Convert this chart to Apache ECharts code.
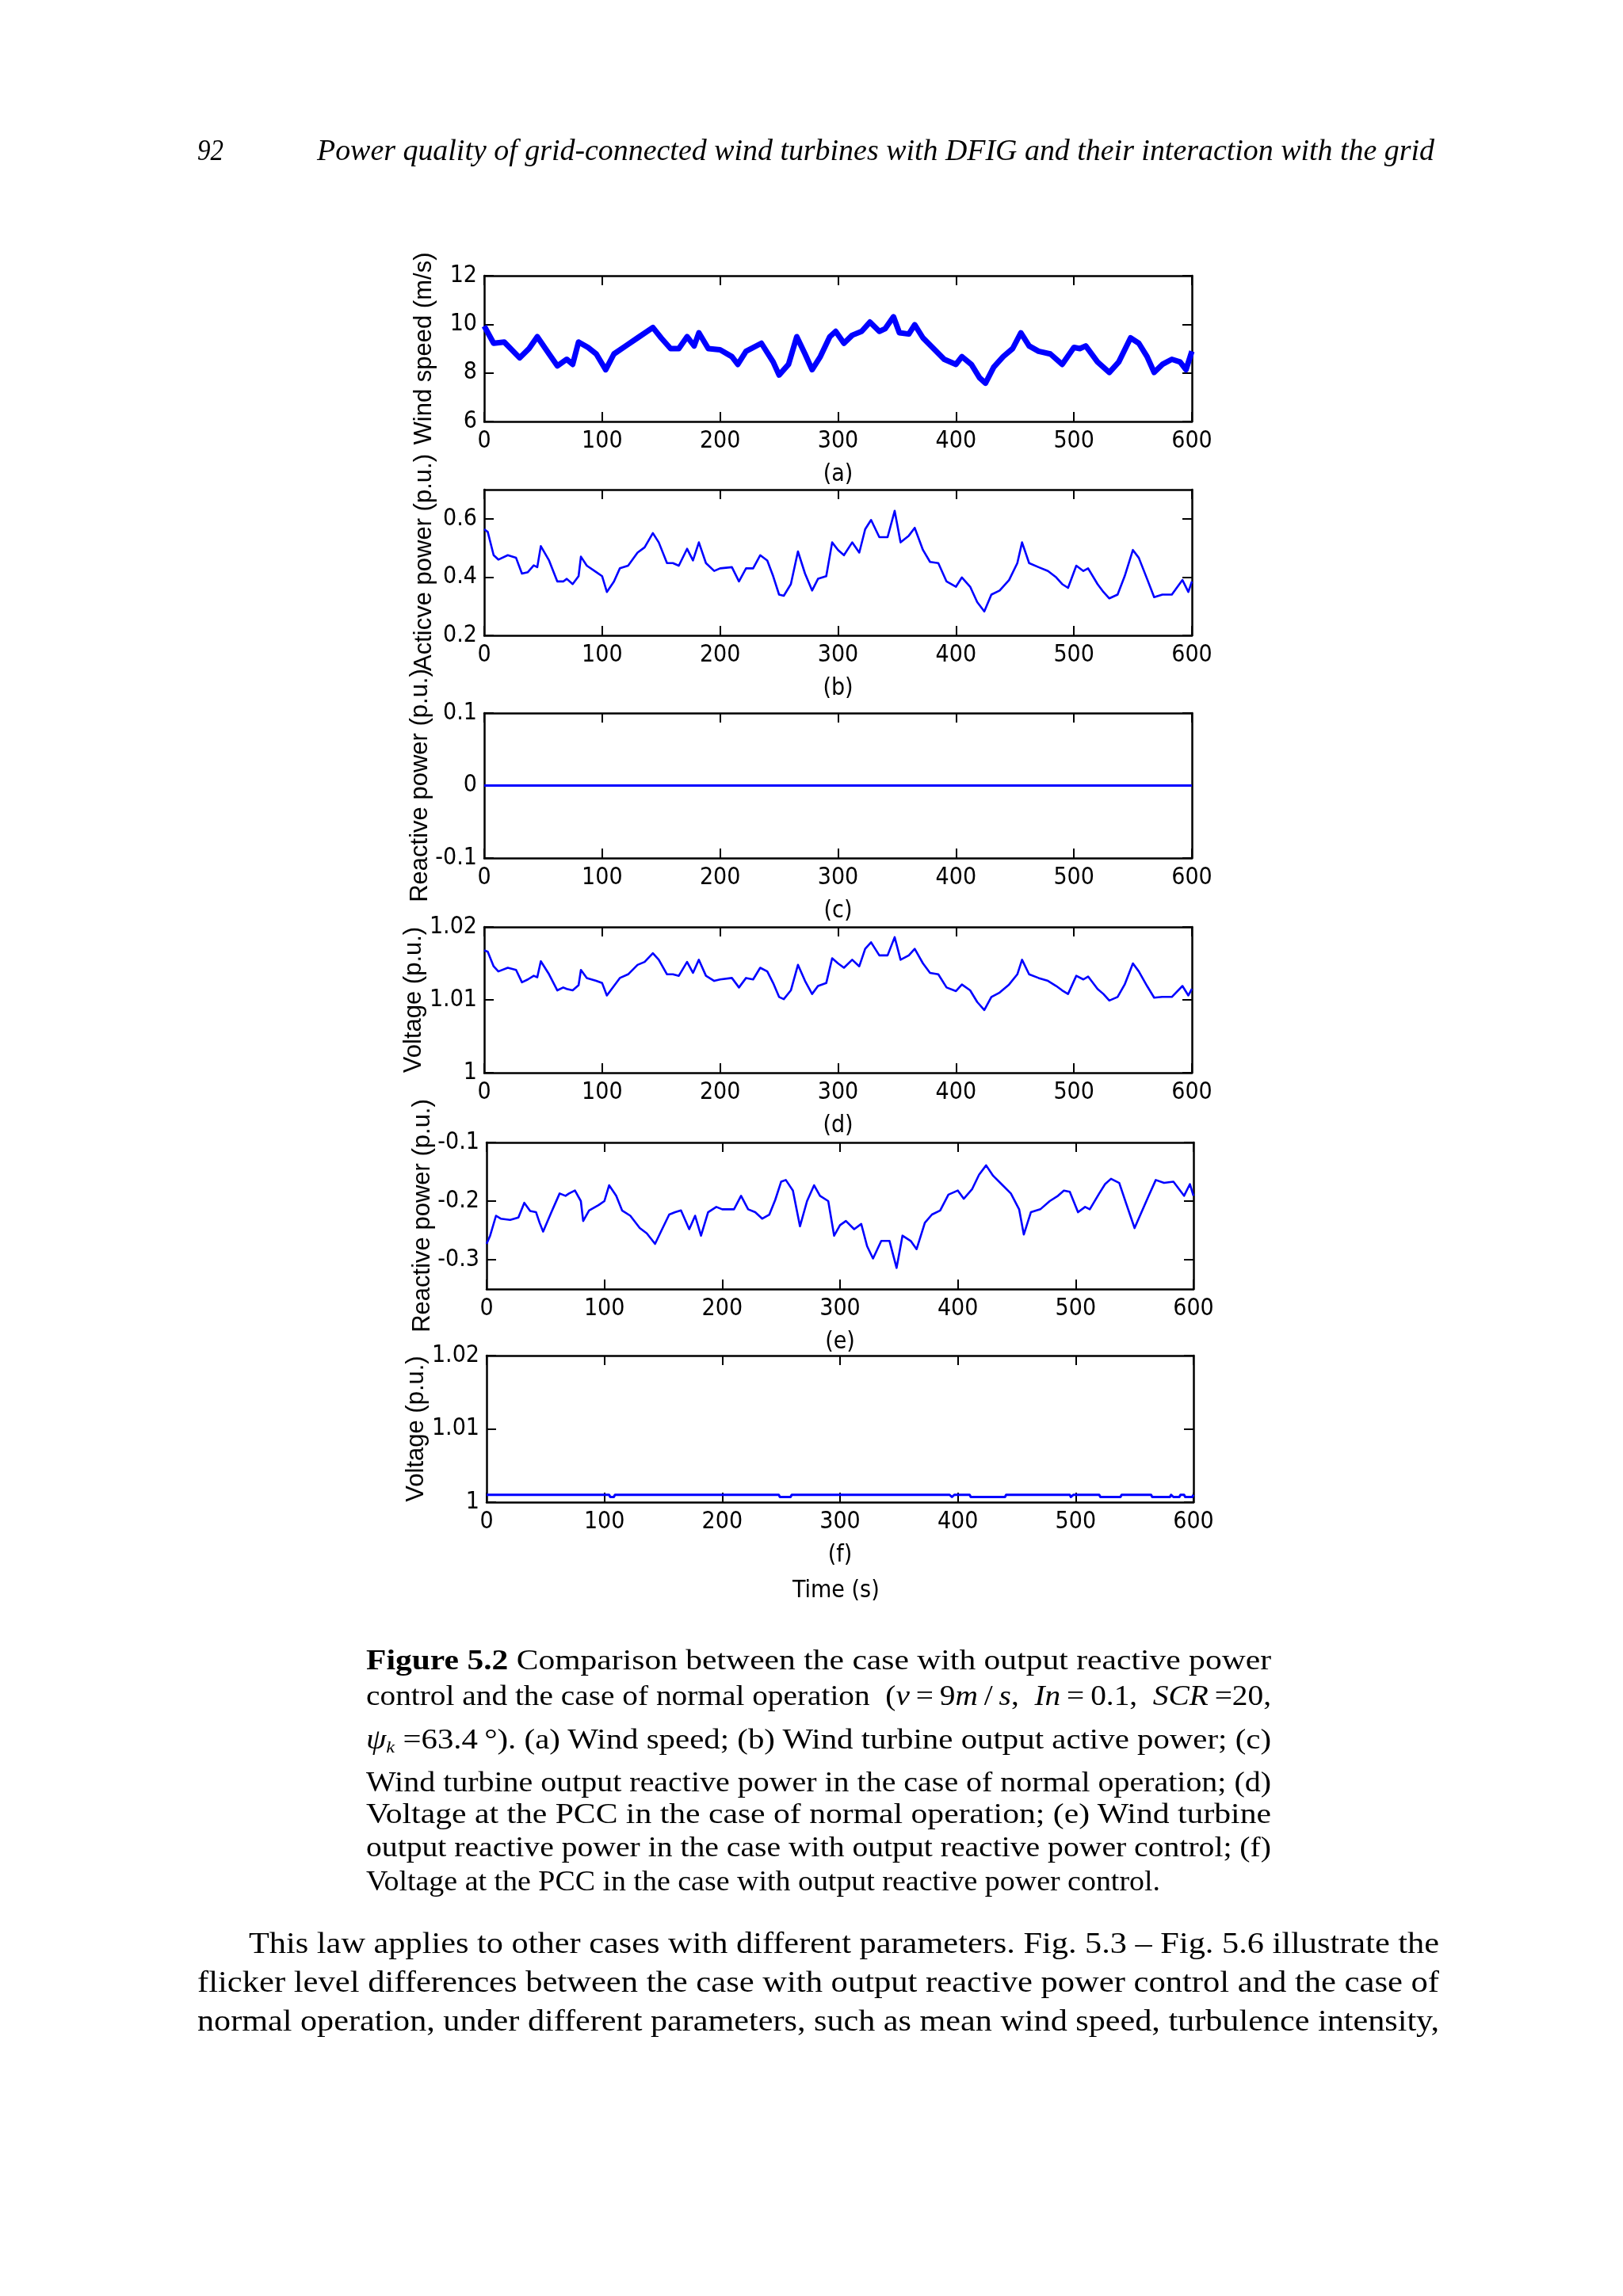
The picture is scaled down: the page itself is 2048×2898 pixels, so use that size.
<!DOCTYPE html>
<html>
<head>
<meta charset="utf-8">
<script src="https://cdn.jsdelivr.net/npm/echarts@6/dist/echarts.min.js"></script>
<style>
  html,body{margin:0;padding:0;background:#fff;}
  #page{position:relative;width:2048px;height:2898px;overflow:hidden;background:#fff;}
  #chart{position:absolute;left:0;top:0;width:2048px;height:2898px;}
  .ln{position:absolute;white-space:nowrap;font-family:"Liberation Serif","Times New Roman",serif;line-height:1;color:#000;}
  .ln span.in{display:inline-block;transform-origin:0 0;}
  sub{font-size:60%;vertical-align:-0.25em;line-height:0;}
</style>
</head>
<body>
<div id="page">
  <div id="chart"></div>
  <div class="ln" style="left:249px;top:171px;font-size:37px;font-style:italic" data-w="33"><span class="in">92</span></div>
  <div class="ln" style="left:400px;top:171px;font-size:37px;font-style:italic" data-w="1410"><span class="in">Power quality of grid-connected wind turbines with DFIG and their interaction with the grid</span></div>

  <div class="ln cap" style="left:462px;top:2077px;font-size:36px" data-w="1142"><span class="in"><b>Figure 5.2</b> Comparison between the case with output reactive power</span></div>
  <div class="ln cap" style="left:462px;top:2122px;font-size:36px" data-w="1142"><span class="in">control and the case of normal operation &nbsp;(<i>v</i>&thinsp;=&thinsp;9<i>m</i>&thinsp;/&thinsp;<i>s</i>, &nbsp;<i>In</i>&thinsp;=&thinsp;0.1, &nbsp;<i>SCR</i>&thinsp;=20,</span></div>
  <div class="ln cap" style="left:462px;top:2177px;font-size:36px" data-w="1142"><span class="in"><i>ψ<sub>k</sub></i> =63.4&thinsp;°). (a) Wind speed; (b) Wind turbine output active power; (c)</span></div>
  <div class="ln cap" style="left:462px;top:2231px;font-size:36px" data-w="1142"><span class="in">Wind turbine output reactive power in the case of normal operation; (d)</span></div>
  <div class="ln cap" style="left:462px;top:2271px;font-size:36px" data-w="1142"><span class="in">Voltage at the PCC in the case of normal operation; (e) Wind turbine</span></div>
  <div class="ln cap" style="left:462px;top:2313px;font-size:36px" data-w="1142"><span class="in">output reactive power in the case with output reactive power control; (f)</span></div>
  <div class="ln cap" style="left:462px;top:2356px;font-size:36px" data-w="1002"><span class="in">Voltage at the PCC in the case with output reactive power control.</span></div>

  <div class="ln" style="left:314px;top:2433px;font-size:38px" data-w="1502"><span class="in">This law applies to other cases with different parameters. Fig. 5.3 – Fig. 5.6 illustrate the</span></div>
  <div class="ln" style="left:249px;top:2482px;font-size:38px" data-w="1567"><span class="in">flicker level differences between the case with output reactive power control and the case of</span></div>
  <div class="ln" style="left:249px;top:2531px;font-size:38px" data-w="1567"><span class="in">normal operation, under different parameters, such as mean wind speed, turbulence intensity,</span></div>
</div>
<script>
// ---------------- DATA ----------------
const xTicks = [0, 100, 200, 300, 400, 500, 600];

// (a) wind speed (m/s)
const windTime = [0,8,17,30,38,45,55,62,70,75,80,88,95,103,110,120,130,143,150,158,165,172,178,182,190,200,210,215,222,235,245,250,258,265,272,278,285,293,298,305,312,320,327,335,340,347,352,360,365,372,380,390,400,405,413,420,425,432,440,448,455,462,470,480,490,500,505,510,520,530,538,548,555,562,568,575,583,590,595,600];
const windSpeed = [9.93,9.22,9.27,8.62,9.0,9.49,8.78,8.29,8.56,8.35,9.27,9.05,8.78,8.13,8.78,9.11,9.44,9.87,9.44,9.0,9.0,9.49,9.11,9.65,9.0,8.95,8.67,8.35,8.89,9.22,8.45,7.91,8.35,9.49,8.78,8.13,8.67,9.49,9.71,9.22,9.55,9.71,10.09,9.71,9.82,10.31,9.65,9.6,9.98,9.44,9.05,8.56,8.35,8.67,8.35,7.8,7.58,8.24,8.67,9.0,9.65,9.11,8.89,8.78,8.35,9.05,9.0,9.11,8.45,8.02,8.45,9.44,9.22,8.67,8.02,8.35,8.56,8.45,8.13,8.89];

// common time base for (b), (d), (e)
const simTime = [0,3,8,12,20,27,32,37,42,45,48,55,62,67,70,75,80,82,87,95,100,104,110,115,122,130,136,143,148,155,160,165,172,177,182,188,195,200,210,216,222,228,234,240,245,250,254,260,266,272,278,283,290,295,300,305,312,318,323,328,335,342,348,353,360,365,372,378,385,392,400,405,412,418,424,430,437,445,452,456,462,470,478,485,490,495,502,508,512,520,525,530,537,543,550,555,562,568,575,583,592,597,600];

// (b) active power (p.u.)
const activePower = [0.564,0.555,0.475,0.46,0.475,0.466,0.412,0.417,0.44,0.434,0.506,0.457,0.385,0.385,0.394,0.376,0.403,0.47,0.439,0.417,0.403,0.349,0.385,0.43,0.439,0.484,0.502,0.551,0.519,0.448,0.448,0.439,0.497,0.457,0.519,0.448,0.421,0.43,0.434,0.385,0.43,0.43,0.475,0.457,0.403,0.34,0.336,0.376,0.488,0.412,0.354,0.394,0.403,0.519,0.493,0.475,0.519,0.484,0.564,0.596,0.537,0.537,0.627,0.519,0.542,0.569,0.493,0.452,0.448,0.385,0.367,0.399,0.367,0.314,0.282,0.34,0.354,0.39,0.448,0.519,0.448,0.434,0.421,0.399,0.376,0.363,0.439,0.421,0.43,0.376,0.349,0.327,0.34,0.403,0.493,0.466,0.394,0.331,0.34,0.34,0.39,0.349,0.385];

// (c) reactive power, normal operation (p.u.)
const reactiveNormalTime = [0, 600];
const reactiveNormal = [0, 0];

// (d) PCC voltage, normal operation (p.u.)
const voltageNormal = [1.0168,1.0166,1.0146,1.0139,1.0144,1.0141,1.0124,1.0128,1.0133,1.0131,1.0153,1.0135,1.0113,1.0117,1.0115,1.0113,1.012,1.0141,1.013,1.0126,1.0123,1.0106,1.0119,1.013,1.0135,1.0148,1.0152,1.0164,1.0155,1.0135,1.0135,1.0133,1.0152,1.0137,1.0155,1.0133,1.0126,1.0128,1.013,1.0117,1.013,1.0128,1.0144,1.0139,1.0123,1.0104,1.0101,1.0113,1.0148,1.0126,1.0108,1.0119,1.0123,1.0157,1.015,1.0144,1.0155,1.0146,1.017,1.0179,1.0161,1.0161,1.0186,1.0155,1.0161,1.017,1.015,1.0137,1.0135,1.0117,1.0112,1.0121,1.0113,1.0097,1.0086,1.0104,1.011,1.0121,1.0135,1.0155,1.0135,1.013,1.0126,1.0119,1.0113,1.0108,1.0133,1.0128,1.0132,1.0115,1.0108,1.0099,1.0104,1.0121,1.015,1.0139,1.0119,1.0103,1.0104,1.0104,1.0119,1.0106,1.0115];

// (e) reactive power with output reactive power control (p.u.)
const reactiveControl = [-0.273,-0.259,-0.225,-0.23,-0.232,-0.228,-0.203,-0.217,-0.219,-0.237,-0.252,-0.219,-0.187,-0.191,-0.187,-0.182,-0.2,-0.234,-0.216,-0.207,-0.2,-0.173,-0.191,-0.216,-0.225,-0.246,-0.255,-0.273,-0.252,-0.223,-0.219,-0.216,-0.248,-0.225,-0.259,-0.219,-0.21,-0.214,-0.214,-0.191,-0.214,-0.219,-0.23,-0.223,-0.198,-0.167,-0.164,-0.182,-0.243,-0.2,-0.173,-0.191,-0.2,-0.259,-0.241,-0.234,-0.248,-0.239,-0.277,-0.298,-0.268,-0.268,-0.314,-0.259,-0.268,-0.282,-0.237,-0.223,-0.216,-0.189,-0.182,-0.196,-0.18,-0.155,-0.139,-0.157,-0.171,-0.187,-0.214,-0.257,-0.219,-0.214,-0.2,-0.191,-0.182,-0.184,-0.219,-0.21,-0.214,-0.187,-0.171,-0.162,-0.169,-0.205,-0.246,-0.223,-0.191,-0.164,-0.169,-0.167,-0.191,-0.171,-0.191];

// (f) PCC voltage with output reactive power control (p.u.)
const voltageControlTime = [0,104,105,108,109,248,249,258,259,393,395,397,410,411,440,441,495,496,498,520,521,538,539,564,565,580,581,583,588,589,592,593,599,600];
const voltageControl = [1.001,1.001,1.0007,1.0007,1.001,1.001,1.0007,1.0007,1.001,1.001,1.0007,1.001,1.001,1.0007,1.0007,1.001,1.001,1.0007,1.001,1.001,1.0007,1.0007,1.001,1.001,1.0007,1.0007,1.001,1.0007,1.0007,1.001,1.001,1.0007,1.0007,1.001];

// y tick labels per panel
const yTicksA = [6, 8, 10, 12];
const yTicksB = [0.2, 0.4, 0.6];
const yTicksC = [-0.1, 0, 0.1];
const yTicksD = [1, 1.01, 1.02];
const yTicksE = [-0.3, -0.2, -0.1];
const yTicksF = [1, 1.01, 1.02];

const yNames = ['Wind speed (m/s)', 'Acticve power (p.u.)', 'Reactive power (p.u.)', 'Voltage (p.u.)', 'Reactive power (p.u.)', 'Voltage (p.u.)'];
const subLabels = ['(a)', '(b)', '(c)', '(d)', '(e)', '(f)'];
const xTitle = 'Time (s)';

// ---------------- LAYOUT ----------------
const panels = [
  {left:611, right:544, top:348, height:184, ymin:6,    ymax:12,   ticks:yTicksA, t:windTime, v:windSpeed, lw:7},
  {left:611, right:544, top:618, height:184, ymin:0.2,  ymax:0.7,  ticks:yTicksB, t:simTime, v:activePower, lw:2.6},
  {left:611, right:544, top:900, height:183, ymin:-0.1, ymax:0.1,  ticks:yTicksC, t:reactiveNormalTime, v:reactiveNormal, lw:3},
  {left:611, right:544, top:1170, height:184, ymin:1,   ymax:1.02, ticks:yTicksD, t:simTime, v:voltageNormal, lw:2.6},
  {left:614, right:542, top:1442, height:185, ymin:-0.35, ymax:-0.1, ticks:yTicksE, t:simTime, v:reactiveControl, lw:2.6},
  {left:614, right:542, top:1711, height:185, ymin:1,   ymax:1.02, ticks:yTicksF, t:voltageControlTime, v:voltageControl, lw:3}
];

const tickFont = "'Liberation Sans Narrow','Arial Narrow','DejaVu Sans Condensed',sans-serif";
const nameFont = "'Liberation Sans',Arial,sans-serif";

const grid = [], xAxis = [], yAxis = [], series = [];
const lineStyle = {color:'#000', width:2.5};
const tickStyle = {show:true, inside:true, length:12, lineStyle:{color:'#000', width:2}};

panels.forEach((p, i) => {
  grid.push({left:p.left, right:p.right, top:p.top, height:p.height, containLabel:false});
  // bottom x axis
  xAxis.push({
    type:'value', gridIndex:i, min:0, max:600, interval:100, position:'bottom',
    axisLine:{show:true, onZero:false, lineStyle:lineStyle},
    axisTick:Object.assign({}, tickStyle, {customValues:xTicks}),
    axisLabel:{color:'#000', fontSize:30, fontFamily:tickFont, margin:10, customValues:xTicks},
    splitLine:{show:false},
    name:subLabels[i], nameLocation:'middle', nameGap:52,
    nameTextStyle:{color:'#000', fontSize:30, fontFamily:tickFont}
  });
  // top mirrored x axis
  xAxis.push({
    type:'value', gridIndex:i, min:0, max:600, interval:100, position:'top',
    axisLine:{show:true, onZero:false, lineStyle:lineStyle},
    axisTick:Object.assign({}, tickStyle, {customValues:xTicks}),
    axisLabel:{show:false}, splitLine:{show:false}
  });
  // left y axis
  yAxis.push({
    type:'value', gridIndex:i, min:p.ymin, max:p.ymax, position:'left',
    axisLine:{show:true, onZero:false, lineStyle:lineStyle},
    axisTick:Object.assign({}, tickStyle, {customValues:p.ticks}),
    axisLabel:{color:'#000', fontSize:30, fontFamily:tickFont, margin:9, customValues:p.ticks},
    splitLine:{show:false},
    name:yNames[i], nameLocation:'middle', nameRotate:90, nameGap:60,
    nameTextStyle:{color:'#000', fontSize:31, fontFamily:nameFont}
  });
  // right mirrored y axis
  yAxis.push({
    type:'value', gridIndex:i, min:p.ymin, max:p.ymax, position:'right',
    axisLine:{show:true, onZero:false, lineStyle:lineStyle},
    axisTick:Object.assign({}, tickStyle, {customValues:p.ticks}),
    axisLabel:{show:false}, splitLine:{show:false}
  });
  series.push({
    type:'line', xAxisIndex:2*i, yAxisIndex:2*i,
    data:p.t.map((x, k) => [x, p.v[k]]),
    showSymbol:false, symbol:'none', silent:true, clip:true,
    lineStyle:{color:'#0000ff', width:p.lw, join:'round'}
  });
});

const chart = echarts.init(document.getElementById('chart'), null, {renderer:'canvas'});
chart.setOption({
  backgroundColor:'transparent',
  animation:false,
  grid, xAxis, yAxis, series,
  graphic:[{
    type:'text', left:1060 - 60, top:1993,
    style:{text:xTitle, fill:'#000', font:"30px " + tickFont, width:120, align:'center'}
  }]
});

// fit text lines to the reference widths
function fitLines(){
  document.querySelectorAll('.ln').forEach(el => {
    const s = el.querySelector('span.in');
    s.style.transform = 'none';
    const w = s.getBoundingClientRect().width;
    const target = parseFloat(el.dataset.w);
    if (w > 0 && target) s.style.transform = 'scaleX(' + (target / w) + ')';
  });
}
fitLines();
if (document.fonts && document.fonts.ready) document.fonts.ready.then(fitLines);
</script>
</body>
</html>
